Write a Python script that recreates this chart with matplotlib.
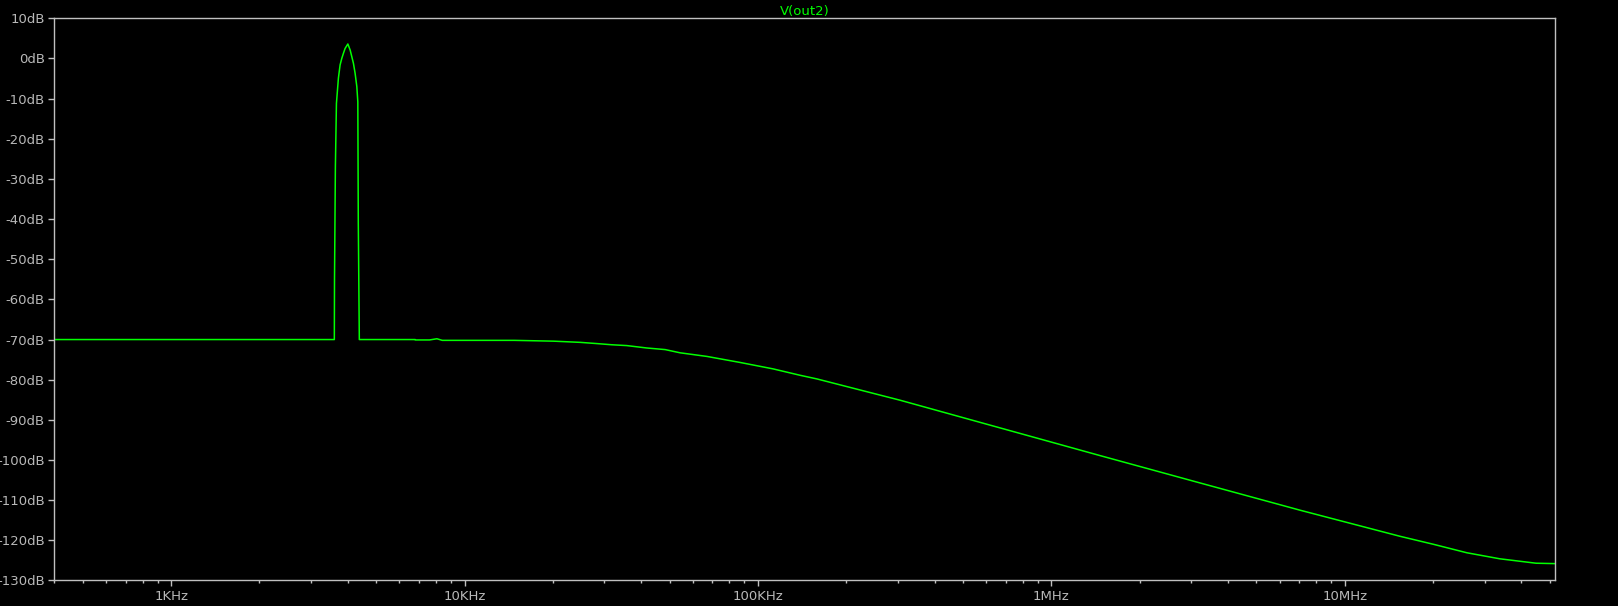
import numpy as np
import matplotlib
matplotlib.use('Agg')
import matplotlib.pyplot as plt
from matplotlib.ticker import FixedLocator, NullFormatter

# frequency (Hz) and magnitude (dB) of V(out2)
freq = [400, 3600, 3605, 3630, 3660, 3717, 3767, 3818, 3867, 3918, 4003,
        4076, 4182, 4238, 4295, 4329, 4345, 4380, 6790, 6800, 7600, 8050,
        8400, 14760, 20100, 24800, 28200, 31800, 35700, 41800, 48300, 54300,
        67000, 86900, 112600, 139300, 158800, 305000, 669000, 1467000,
        3210000, 7050000, 15450000, 20100000, 26100000, 33800000, 44900000,
        52200000]
mag_db = [-70, -70, -55, -27, -11.2, -4.9, -1.6, 0.05, 1.3, 2.5, 3.6,
          2.1, -1.2, -3.7, -7.0, -10.8, -40.9, -70, -70, -70.1, -70.1, -69.8,
          -70.2, -70.2, -70.4, -70.7, -71.0, -71.3, -71.5, -72.1, -72.5, -73.3,
          -74.2, -75.7, -77.3, -78.9, -79.8, -85.1, -92.0, -98.9,
          -105.7, -112.5, -119.0, -121.0, -123.1, -124.6, -125.7,
          -125.8]

x_ticks = [1e3, 1e4, 1e5, 1e6, 1e7]
x_tick_labels = ['1KHz', '10KHz', '100KHz', '1MHz', '10MHz']
y_ticks = list(range(10, -131, -10))
y_tick_labels = [f'{v}dB' for v in y_ticks]

grey = '#c0c0c0'

fig = plt.figure(figsize=(16.18, 6.06), dpi=100, facecolor='black')
ax = fig.add_axes([0.0336, 0.0421, 0.9276, 0.9277], facecolor='black')

ax.plot(freq, mag_db, color='#00ff00', lw=1.1)

ax.set_xscale('log')
ax.set_xlim(400, 52.2e6)
ax.set_ylim(-130, 10)

ax.xaxis.set_major_locator(FixedLocator(x_ticks))
ax.set_xticklabels(x_tick_labels)
minor = [m * 10.0**e for e in range(2, 8) for m in range(2, 10)]
ax.xaxis.set_minor_locator(FixedLocator(minor))
ax.xaxis.set_minor_formatter(NullFormatter())
ax.set_yticks(y_ticks)
ax.set_yticklabels(y_tick_labels)

for s in ax.spines.values():
    s.set_color(grey)
    s.set_linewidth(1.0)

ax.tick_params(axis='both', which='major', colors=grey, labelcolor='#b8b8b8',
               labelsize=9.5, length=4.5, width=1.0, pad=2.5)
ax.tick_params(axis='x', which='minor', colors=grey, length=2.5, width=1.0)
ax.tick_params(axis='y', which='minor', left=False)

ax.set_title('V(out2)', color='#00ff00', fontsize=9.5, pad=2.5)

fig.savefig('out.png', dpi=100, facecolor='black')
